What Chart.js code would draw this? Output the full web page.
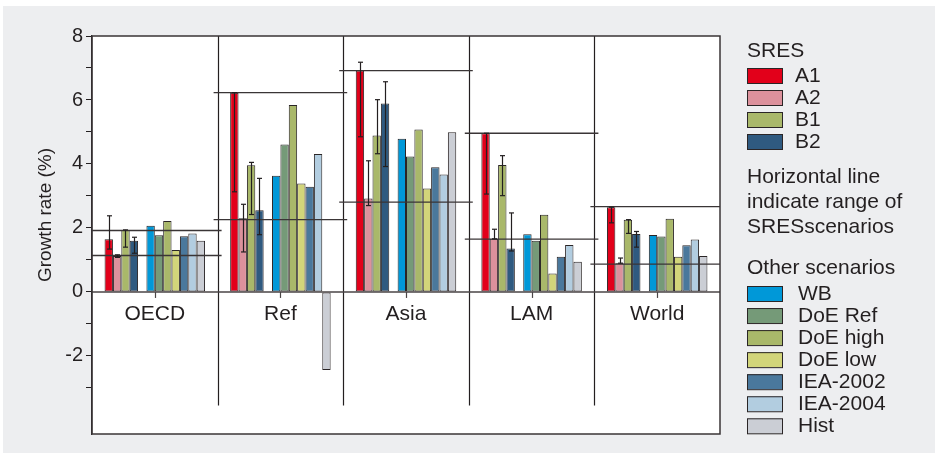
<!DOCTYPE html>
<html><head><meta charset="utf-8">
<script src="https://cdn.jsdelivr.net/npm/chart.js@4"></script>
<style>html,body{margin:0;padding:0;background:#fff}#wrap{width:935px;height:453px}</style>
</head><body><div id="wrap"><canvas id="c" width="935" height="453"></canvas></div>
<script>
// ---------- DATA ----------
const regions = ['OECD', 'Ref', 'Asia', 'LAM', 'World'];
const yTicks = [8, 7, 6, 5, 4, 3, 2, 1, 0, -1, -2, -3];
const yTitle = 'Growth rate (%)';

// SRES scenarios
const A1 = [1.65, 6.23, 6.92, 4.96, 2.65];
const A2 = [1.12, 2.30, 2.92, 1.66, 0.90];
const B1 = [1.94, 3.96, 4.89, 3.97, 2.26];
const B2 = [1.60, 2.55, 5.89, 1.36, 1.81];
// error bar ranges of SRES scenarios
const A1Low = [1.34, 3.13, 4.85, 3.06, 2.16];
const A1High = [2.38, 6.23, 7.18, 4.96, 2.65];
const A2Low = [1.08, 1.25, 2.70, 1.66, 0.90];
const A2High = [1.16, 2.74, 4.10, 1.96, 1.06];
const B1Low = [1.40, 2.42, 4.32, 3.01, 1.83];
const B1High = [1.94, 4.05, 6.01, 4.26, 2.26];
const B2Low = [1.21, 1.79, 3.92, 1.28, 1.40];
const B2High = [1.71, 3.55, 6.57, 2.47, 1.89];
// horizontal lines: range of SRES scenarios
const rangeHigh = [1.92, 6.23, 6.92, 4.96, 2.67];
const rangeLow = [1.14, 2.26, 2.81, 1.65, 0.87];

// Other scenarios
const WB = [2.07, 3.63, 4.79, 1.80, 1.78];
const DoERef = [1.77, 4.61, 4.23, 1.60, 1.73];
const DoEHigh = [2.22, 5.84, 5.08, 2.41, 2.29];
const DoELow = [1.31, 3.39, 3.23, 0.58, 1.10];
const IEA2002 = [1.74, 3.29, 3.90, 1.10, 1.46];
const IEA2004 = [1.83, 4.31, 3.67, 1.47, 1.64];
const Hist = [1.60, -2.44, 4.99, 0.94, 1.12];
const gap = [null, null, null, null, null];

// ---------- STYLE ----------
const FONT = '"Liberation Sans", Arial, Helvetica, sans-serif';
const INK = '#231f20';
const colors = {
  A1: '#e2001a', A2: '#dc919c', B1: '#a9b86a', B2: '#2f5a80',
  WB: '#0098d8', DoERef: '#759a78', DoEHigh: '#a9b86a', DoELow: '#d2d57a',
  IEA2002: '#4a789c', IEA2004: '#b2cde0', Hist: '#cbced5'
};
function ds(label, data, color) {
  return { label, data, backgroundColor: color, borderColor: '#2a2526', borderWidth: 1, borderSkipped: false };
}
const sresSets = [ds('A1', A1, colors.A1), ds('A2', A2, colors.A2), ds('B1', B1, colors.B1), ds('B2', B2, colors.B2)];
const otherSets = [ds('WB', WB, colors.WB), ds('DoE Ref', DoERef, colors.DoERef), ds('DoE high', DoEHigh, colors.DoEHigh),
  ds('DoE low', DoELow, colors.DoELow), ds('IEA-2002', IEA2002, colors.IEA2002), ds('IEA-2004', IEA2004, colors.IEA2004),
  ds('Hist', Hist, colors.Hist)];
const errs = [[A1Low, A1High], [A2Low, A2High], [B1Low, B1High], [B2Low, B2High]];

function line(ctx, x1, y1, x2, y2) { ctx.beginPath(); ctx.moveTo(x1, y1); ctx.lineTo(x2, y2); ctx.stroke(); }

const decor = {
  id: 'decor',
  beforeDraw(chart) {
    const { ctx, width, height, chartArea: a } = chart;
    ctx.save();
    ctx.fillStyle = '#ffffff'; ctx.fillRect(0, 0, width, height);
    ctx.fillStyle = '#edeef0'; ctx.fillRect(3, 6, width - 3, height - 6);
    ctx.fillStyle = '#ffffff'; ctx.fillRect(a.left, a.top, a.right - a.left, a.bottom - a.top);
    ctx.restore();
  },
  afterDatasetsDraw(chart) {
    const { ctx, chartArea: a, scales: { x, y } } = chart;
    const half = (x.getPixelForValue(1) - x.getPixelForValue(0)) / 2;
    const y0 = y.getPixelForValue(0);
    ctx.save();
    ctx.strokeStyle = INK;
    // separators between regions
    ctx.lineWidth = 1.2;
    for (let j = 1; j < regions.length; j++) {
      const sx = Math.round((x.getPixelForValue(j - 1) + x.getPixelForValue(j)) / 2) + 0.5;
      line(ctx, sx, a.top, sx, y.getPixelForValue(-3.55));
    }
    // range lines
    ctx.strokeStyle = '#3a3536';
    ctx.lineWidth = 1.3;
    regions.forEach((r, j) => {
      const cx = x.getPixelForValue(j);
      const l = Math.max(a.left, cx - half - 4), rr = Math.min(a.right, cx + half + 4);
      [rangeHigh[j], rangeLow[j]].forEach(v => { const py = y.getPixelForValue(v); line(ctx, l, py, rr, py); });
    });
    // zero line
    ctx.strokeStyle = '#4a4546';
    ctx.lineWidth = 1.6;
    line(ctx, a.left, y0, a.right, y0);
    // category ticks
    ctx.lineWidth = 1.2;
    regions.forEach((r, j) => { const cx = Math.round(x.getPixelForValue(j)) + 0.5; line(ctx, cx, y0, cx, y0 + 6); });
    // error bars
    ctx.strokeStyle = INK;
    ctx.lineWidth = 1.2;
    errs.forEach(([lo, hi], i) => {
      const meta = chart.getDatasetMeta(i);
      meta.data.forEach((bar, j) => {
        const bx = Math.round(bar.x) + 0.5;
        const p1 = y.getPixelForValue(hi[j]), p2 = y.getPixelForValue(lo[j]);
        line(ctx, bx, p1, bx, p2);
        line(ctx, bx - 2.5, p1, bx + 2.5, p1);
        line(ctx, bx - 2.5, p2, bx + 2.5, p2);
      });
    });
    // region labels
    ctx.fillStyle = INK;
    ctx.font = '21px ' + FONT;
    ctx.textAlign = 'center';
    ctx.textBaseline = 'middle';
    regions.forEach((r, j) => ctx.fillText(r, x.getPixelForValue(j), y0 + 22));
    // box
    ctx.strokeStyle = '#3a3536';
    ctx.lineWidth = 1.5;
    ctx.strokeRect(a.left, a.top, a.right - a.left, a.bottom - a.top);
    // y axis title
    ctx.save();
    ctx.translate(46, 215);
    ctx.rotate(-Math.PI / 2);
    ctx.fillStyle = INK;
    ctx.font = '19px ' + FONT;
    ctx.textAlign = 'center';
    ctx.textBaseline = 'middle';
    ctx.fillText(yTitle, 0, 0);
    ctx.restore();
    ctx.restore();
  },
  afterDraw(chart) {
    const ctx = chart.ctx;
    ctx.save();
    ctx.fillStyle = INK;
    ctx.font = '21px ' + FONT;
    ctx.textAlign = 'left';
    ctx.textBaseline = 'middle';
    const bx = 747, bw = 35, bh = 15;
    ctx.fillText('SRES', bx, 51);
    const item = (d, top, tx) => {
      ctx.fillStyle = d.backgroundColor;
      ctx.fillRect(bx, top, bw, bh);
      ctx.strokeStyle = '#2a2526'; ctx.lineWidth = 1;
      ctx.strokeRect(bx + 0.5, top + 0.5, bw, bh);
      ctx.fillStyle = INK;
      ctx.fillText(d.label, tx, top + bh / 2 + 0.5);
    };
    sresSets.forEach((d, i) => item(d, 68 + 22 * i, 795));
    ctx.fillText('Horizontal line', bx, 177);
    ctx.fillText('indicate range of', bx, 202);
    ctx.fillText('SRESscenarios', bx, 227);
    ctx.fillText('Other scenarios', bx, 268.5);
    otherSets.forEach((d, i) => item(d, 286 + 22.05 * i, 798));
    ctx.restore();
  }
};

new Chart(document.getElementById('c'), {
  type: 'bar',
  data: {
    labels: regions,
    datasets: [...sresSets, { label: '', data: gap, backgroundColor: 'rgba(0,0,0,0)', borderWidth: 0 }, ...otherSets]
  },
  options: {
    responsive: false,
    animation: false,
    devicePixelRatio: 1,
    layout: { padding: { left: 0, top: 36, right: 215, bottom: 19 } },
    datasets: { bar: { categoryPercentage: 0.8, barPercentage: 1.0 } },
    plugins: { legend: { display: false }, tooltip: { enabled: false } },
    scales: {
      x: { display: false },
      y: {
        min: -4.44, max: 8,
        afterBuildTicks: s => { s.ticks = yTicks.map(v => ({ value: v })); },
        afterFit: s => { s.width = 92; },
        grid: { drawOnChartArea: false, drawTicks: true, tickLength: 6, color: INK, lineWidth: 1 },
        border: { display: true, color: INK, width: 1.3 },
        ticks: {
          color: INK, padding: 3, font: { family: FONT, size: 20 },
          callback: v => (v % 2 === 0 ? String(v) : '')
        },
        title: { display: false }
      }
    }
  },
  plugins: [decor]
});
</script>
</body></html>
